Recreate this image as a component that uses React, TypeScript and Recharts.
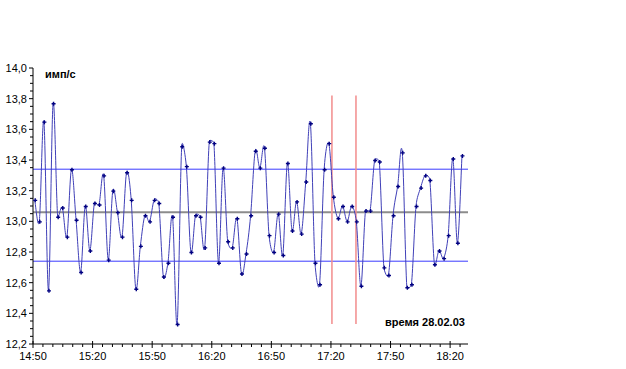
import React from "react";
import { LineChart, Line, XAxis, YAxis, ReferenceLine } from "recharts";

// count rate, imp/s, one reading every ~2.3 min starting just after 14:50
const rate = [
  13.14, 13.0, 13.65, 12.55, 13.77, 13.03, 13.09, 12.9, 13.34, 13.01,
  12.67, 13.1, 12.81, 13.12, 13.11, 13.3, 12.75, 13.2, 13.06, 12.9,
  13.32, 13.14, 12.56, 12.84, 13.04, 13.0, 13.14, 13.12, 12.64, 12.73,
  13.03, 12.33, 13.49, 13.36, 12.8, 13.04, 13.03, 12.83, 13.52, 13.51,
  12.73, 13.35, 12.87, 12.83, 13.02, 12.66, 12.79, 13.04, 13.46, 13.35,
  13.48, 12.91, 12.8, 13.05, 12.78, 13.38, 12.94, 13.13, 12.92, 13.26,
  13.64, 12.73, 12.59, 13.34, 13.51, 13.16, 13.02, 13.1, 13.0, 13.1,
  13.0, 12.58, 13.07, 13.07, 13.4, 13.39, 12.7, 12.65, 13.04, 13.23,
  13.45, 12.57, 12.59, 13.1, 13.22, 13.3, 13.27, 12.72, 12.81, 12.76,
  12.91, 13.41, 12.86, 13.43,
];
const firstMin = 0.86; // minutes after 14:50
const stepMin = 2.313;

// horizontal levels and marked window (minutes after 14:50)
const upperLevel = 13.34;
const meanLevel = 13.06;
const lowerLevel = 12.74;
const marks = [150.5, 162.6];

const xTicks = Array.from({ length: 44 }, (_, i) => i * 5);
const yTicks = Array.from({ length: 37 }, (_, i) => Math.round((12.2 + i * 0.05) * 100) / 100);

const data = rate.map((v, i) => ({ t: firstMin + i * stepMin, v }));

const font = '"Liberation Sans", Arial, sans-serif';

// catmull-rom smoothing, tangent clamped on short segments so flat tops don't balloon
const smoothCurve = (context: any) => {
  let pts: number[][] = [];
  const tan = (a: number[], b: number[], segLen: number) => {
    let tx = (b[0] - a[0]) / 6;
    let ty = (b[1] - a[1]) / 6;
    const m = Math.hypot(tx, ty);
    const lim = segLen / 2;
    if (m > lim && m > 0) {
      tx = (tx / m) * lim;
      ty = (ty / m) * lim;
    }
    return [tx, ty];
  };
  return {
    areaStart() {},
    areaEnd() {},
    lineStart() {
      pts = [];
    },
    point(x: number, y: number) {
      pts.push([+x, +y]);
    },
    lineEnd() {
      if (!pts.length) return;
      context.moveTo(pts[0][0], pts[0][1]);
      for (let i = 0; i < pts.length - 1; i++) {
        const p0 = pts[i - 1] || pts[i];
        const p1 = pts[i];
        const p2 = pts[i + 1];
        const p3 = pts[i + 2] || p2;
        const d = Math.hypot(p2[0] - p1[0], p2[1] - p1[1]);
        const t1 = tan(p0, p2, d);
        const t2 = tan(p1, p3, d);
        context.bezierCurveTo(p1[0] + t1[0], p1[1] + t1[1], p2[0] - t2[0], p2[1] - t2[1], p2[0], p2[1]);
      }
    },
  };
};

const fmtTime = (m: number) => {
  const total = 14 * 60 + 50 + m;
  return `${Math.floor(total / 60)}:${String(total % 60).padStart(2, "0")}`;
};

const XTick = ({ x, y, payload }: any) => {
  const major = payload.value % 30 === 0;
  return (
    <g>
      <line x1={x} x2={x} y1={major ? y - 3 : y} y2={y + (major ? 4 : 3)} stroke="#000" />
      {major && (
        <text x={x} y={y + 16} textAnchor="middle" fontSize={11} fontFamily={font} fill="#000">
          {fmtTime(payload.value)}
        </text>
      )}
    </g>
  );
};

const YTick = ({ x, y, payload }: any) => {
  const v = payload.value;
  const major = Math.abs(v * 5 - Math.round(v * 5)) < 1e-6;
  return (
    <g>
      <line x1={x - (major ? 4 : 3)} x2={x} y1={y} y2={y} stroke="#000" />
      {major && (
        <text x={x - 6} y={y + 4} textAnchor="end" fontSize={11} fontFamily={font} fill="#000">
          {v.toFixed(1).replace(".", ",")}
        </text>
      )}
    </g>
  );
};

const Dot = (props: any) => {
  const { cx, cy, index } = props;
  return (
    <path
      key={`d${index}`}
      d={`M${cx - 1.5},${cy + 0.5}h4M${cx + 0.5},${cy - 1.5}v4`}
      stroke="#000080"
      strokeWidth={1.4}
      fill="none"
    />
  );
};

const App = () => {
  return (
    <div style={{ position: "relative", width: 626, height: 369, background: "#fff" }}>
      <style>{"body{margin:0}"}</style>
      <LineChart width={626} height={369} data={data} margin={{ top: 68, right: 158, bottom: 0, left: 0 }}>
        <XAxis
          dataKey="t"
          type="number"
          domain={[0, 219]}
          ticks={xTicks}
          interval={0}
          height={25}
          tickSize={0}
          tickMargin={0}
          tickLine={false}
          tick={<XTick />}
          axisLine={{ stroke: "#000" }}
          allowDataOverflow
        />
        <YAxis
          type="number"
          domain={[12.2, 14.0]}
          ticks={yTicks}
          interval={0}
          width={33}
          tickSize={0}
          tickMargin={0}
          tickLine={false}
          tick={<YTick />}
          axisLine={{ stroke: "#000" }}
          allowDataOverflow
        />
        <ReferenceLine y={upperLevel} stroke="#3a3aff" />
        <ReferenceLine y={meanLevel} stroke="#8c8c8c" strokeWidth={2} />
        <ReferenceLine y={lowerLevel} stroke="#3a3aff" />
        {marks.map((m) => (
          <ReferenceLine
            key={m}
            segment={[
              { x: m, y: 12.33 },
              { x: m, y: 13.82 },
            ]}
            stroke="#f28c8c"
            strokeWidth={1.5}
          />
        ))}
        <Line
          dataKey="v"
          type={smoothCurve as any}
          stroke="#4040b8"
          strokeWidth={1}
          dot={Dot}
          activeDot={false}
          isAnimationActive={false}
        />
      </LineChart>
      <div style={{ position: "absolute", left: 45, top: 68, font: `bold 11px ${font}` }}>имп/с</div>
      <div style={{ position: "absolute", left: 385, top: 316, font: `bold 11px ${font}` }}>время 28.02.03</div>
    </div>
  );
};

export default App;
